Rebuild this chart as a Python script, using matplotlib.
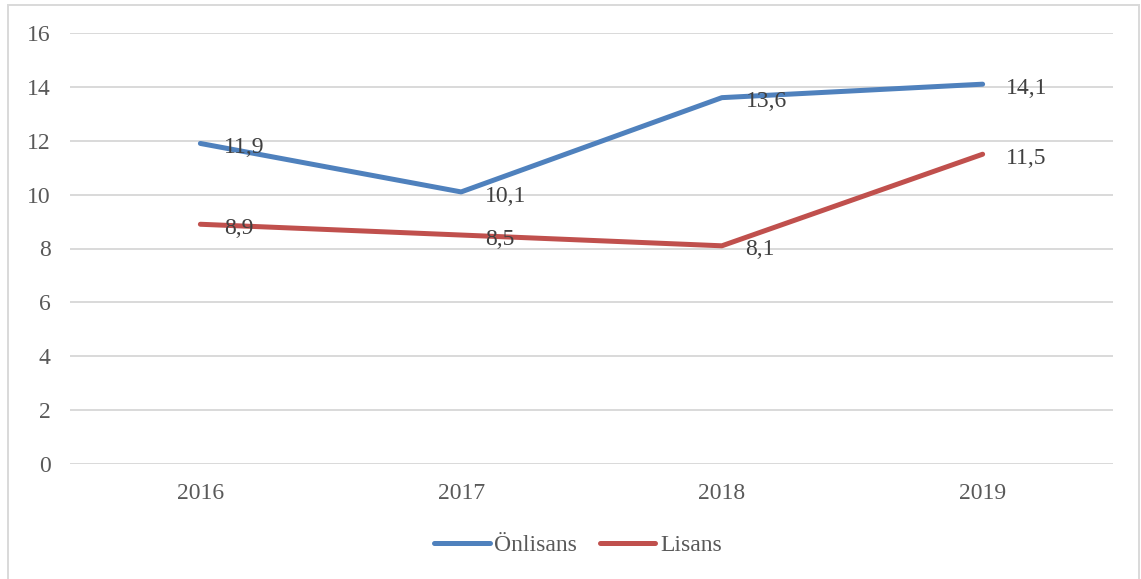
import matplotlib
matplotlib.use("Agg")
import matplotlib.pyplot as plt
from matplotlib.patches import Rectangle

years = ["2016", "2017", "2018", "2019"]
onlisans = [11.9, 10.1, 13.6, 14.1]
lisans = [8.9, 8.5, 8.1, 11.5]
series_names = ["Önlisans", "Lisans"]
yticks = [0, 2, 4, 6, 8, 10, 12, 14, 16]

plt.rcParams['font.family'] = ['Liberation Serif', 'DejaVu Serif']

W, H = 1141, 579
fig = plt.figure(figsize=(W/100, H/100), dpi=100)
ax = fig.add_axes([70/W, 1-464/H, (1113-70)/W, (464-33)/H])

x = list(range(len(years)))
blue = "#4F81BD"
red = "#C0504D"
lw = 3.6
ax.plot(x, onlisans, color=blue, lw=lw, solid_capstyle='round', solid_joinstyle='round', label=series_names[0], zorder=3)
ax.plot(x, lisans, color=red, lw=lw, solid_capstyle='round', solid_joinstyle='round', label=series_names[1], zorder=3)

for vals in (onlisans, lisans):
    for xi, v in zip(x, vals):
        ax.annotate(f"{v:.1f}".replace(".", ","), (xi, v), xytext=(17, -3),
                    textcoords="offset points", ha="left", va="center",
                    fontsize=17, color="#404040", zorder=4)

ax.set_xlim(-0.5, 3.5)
ax.set_ylim(0, 16)
ax.set_yticks(yticks)
ax.set_xticks(x)
ax.set_xticklabels(years)
ax.grid(axis='y', color="#D9D9D9", lw=1.4)
ax.set_axisbelow(True)
for s in ax.spines.values():
    s.set_visible(False)
ax.tick_params(axis='both', length=0, labelsize=17, labelcolor="#595959")
ax.tick_params(axis='y', pad=14)
ax.tick_params(axis='x', pad=14)

leg = fig.legend(loc='center', bbox_to_anchor=(578/W, 1-545/H), ncol=2, frameon=False,
                 fontsize=17, handlelength=2.35, handletextpad=0.2, columnspacing=0.95)
for t in leg.get_texts():
    t.set_color("#595959")

fig.patches.append(Rectangle((8/W, -0.01), (1139-8)/W, 1-5/H+0.01, transform=fig.transFigure,
                             fill=False, edgecolor="#D9D9D9", lw=1.4))

fig.savefig("out.png", dpi=100, facecolor="white")
